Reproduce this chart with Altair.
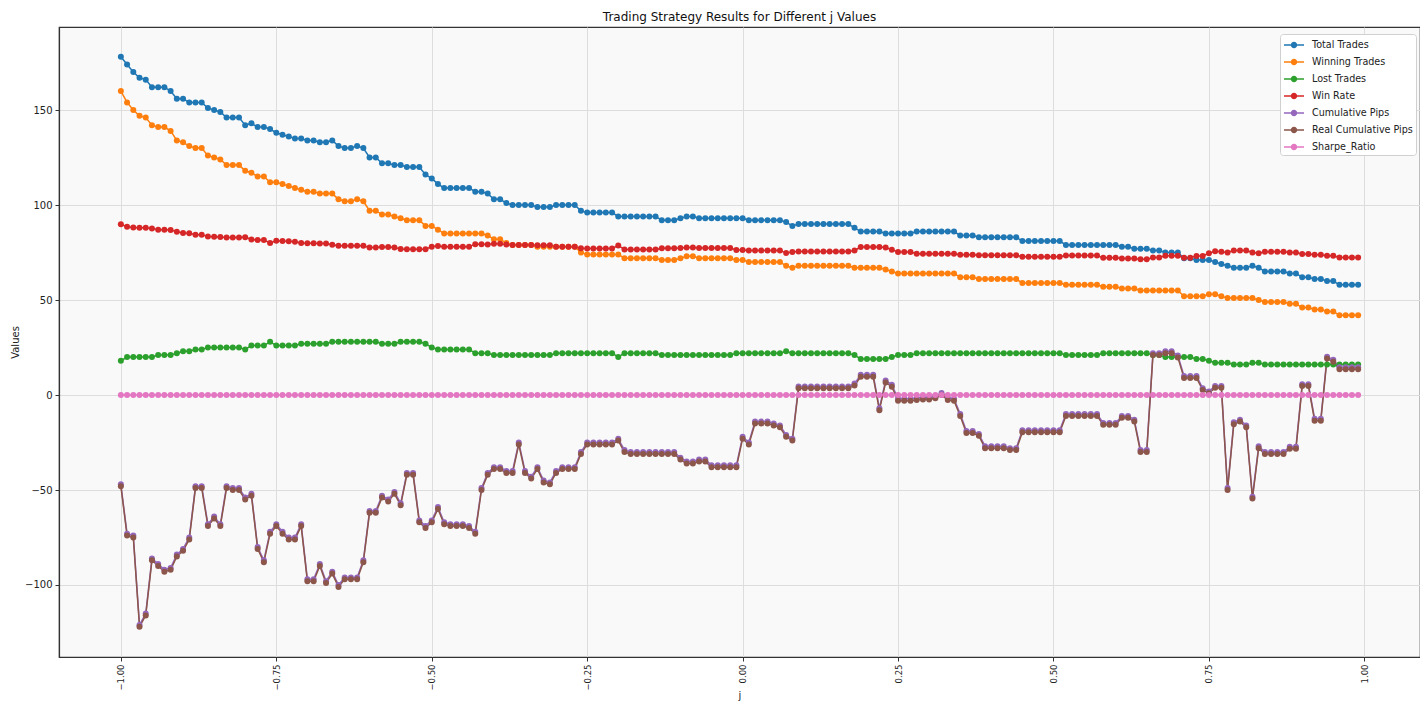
import altair as alt
import pandas as pd

series_names = ["Total Trades", "Winning Trades", "Lost Trades", "Win Rate",
                "Cumulative Pips", "Real Cumulative Pips", "Sharpe_Ratio"]
series_colors = ["#1f77b4", "#ff7f0e", "#2ca02c", "#d62728",
                 "#9467bd", "#8c564b", "#e377c2"]

j_values = [round(-1 + 0.01 * i, 2) for i in range(200)]

total_trades = [
    178, 174, 170, 167, 166, 162, 162, 162, 160, 156, 156, 154, 154, 154, 151, 150, 149, 146, 146, 146,
    142, 143, 141, 141, 140, 138, 137, 136, 135, 135, 134, 134, 133, 133, 134, 131, 130, 130, 131, 130,
    125, 125, 122, 122, 121, 121, 120, 120, 120, 116, 114, 111, 109, 109, 109, 109, 109, 107, 107, 106,
    103, 103, 101, 100, 100, 100, 100, 99, 99, 99, 100, 100, 100, 100, 97, 96, 96, 96, 96, 96,
    94, 94, 94, 94, 94, 94, 94, 92, 92, 92, 93, 94, 94, 93, 93, 93, 93, 93, 93, 93,
    93, 92, 92, 92, 92, 92, 92, 91, 89, 90, 90, 90, 90, 90, 90, 90, 90, 90, 88, 86,
    86, 86, 86, 85, 85, 85, 85, 85, 86, 86, 86, 86, 86, 86, 86, 84, 84, 84, 83, 83,
    83, 83, 83, 83, 83, 81, 81, 81, 81, 81, 81, 81, 79, 79, 79, 79, 79, 79, 79, 79,
    79, 78, 78, 77, 77, 77, 76, 76, 75, 75, 75, 72, 72, 71, 71, 71, 70, 69, 68, 67,
    67, 67, 68, 67, 65, 65, 65, 65, 64, 64, 62, 62, 61, 61, 60, 60, 58, 58, 58, 58,
]

winning_trades = [
    160, 154, 150, 147, 146, 142, 141, 141, 139, 134, 133, 131, 130, 130, 126, 125, 124, 121, 121, 121,
    118, 117, 115, 115, 112, 112, 111, 110, 109, 108, 107, 107, 106, 106, 106, 103, 102, 102, 103, 102,
    97, 97, 95, 95, 94, 93, 92, 92, 92, 89, 89, 87, 85, 85, 85, 85, 85, 85, 85, 84,
    82, 82, 80, 79, 79, 79, 79, 78, 78, 78, 78, 78, 78, 78, 75, 74, 74, 74, 74, 74,
    74, 72, 72, 72, 72, 72, 72, 71, 71, 71, 72, 73, 73, 72, 72, 72, 72, 72, 72, 71,
    71, 70, 70, 70, 70, 70, 70, 68, 67, 68, 68, 68, 68, 68, 68, 68, 68, 68, 67, 67,
    67, 67, 67, 66, 65, 64, 64, 64, 64, 64, 64, 64, 64, 64, 64, 62, 62, 62, 61, 61,
    61, 61, 61, 61, 61, 59, 59, 59, 59, 59, 59, 59, 58, 58, 58, 58, 58, 58, 57, 57,
    57, 56, 56, 56, 55, 55, 55, 55, 55, 55, 55, 52, 52, 52, 52, 53, 53, 52, 51, 51,
    51, 51, 51, 50, 49, 49, 49, 49, 48, 48, 46, 46, 45, 45, 44, 44, 42, 42, 42, 42,
]

lost_trades = [
    18, 20, 20, 20, 20, 20, 21, 21, 21, 22, 23, 23, 24, 24, 25, 25, 25, 25, 25, 25,
    24, 26, 26, 26, 28, 26, 26, 26, 26, 27, 27, 27, 27, 27, 28, 28, 28, 28, 28, 28,
    28, 28, 27, 27, 27, 28, 28, 28, 28, 27, 25, 24, 24, 24, 24, 24, 24, 22, 22, 22,
    21, 21, 21, 21, 21, 21, 21, 21, 21, 21, 22, 22, 22, 22, 22, 22, 22, 22, 22, 22,
    20, 22, 22, 22, 22, 22, 22, 21, 21, 21, 21, 21, 21, 21, 21, 21, 21, 21, 21, 22,
    22, 22, 22, 22, 22, 22, 22, 23, 22, 22, 22, 22, 22, 22, 22, 22, 22, 22, 21, 19,
    19, 19, 19, 19, 20, 21, 21, 21, 22, 22, 22, 22, 22, 22, 22, 22, 22, 22, 22, 22,
    22, 22, 22, 22, 22, 22, 22, 22, 22, 22, 22, 22, 21, 21, 21, 21, 21, 21, 22, 22,
    22, 22, 22, 22, 22, 22, 21, 21, 20, 20, 20, 20, 20, 19, 19, 18, 17, 17, 17, 16,
    16, 16, 17, 17, 16, 16, 16, 16, 16, 16, 16, 16, 16, 16, 16, 16, 16, 16, 16, 16,
]

win_rate = [
    89.9, 88.5, 88.2, 88.0, 88.0, 87.7, 87.0, 87.0, 86.9, 85.9, 85.3, 85.1, 84.4, 84.4, 83.4, 83.3, 83.2, 82.9, 82.9, 82.9,
    83.1, 81.8, 81.6, 81.6, 80.0, 81.2, 81.0, 80.9, 80.7, 80.0, 79.9, 79.9, 79.7, 79.7, 79.1, 78.6, 78.5, 78.5, 78.6, 78.5,
    77.6, 77.6, 77.9, 77.9, 77.7, 76.9, 76.7, 76.7, 76.7, 76.7, 78.1, 78.4, 78.0, 78.0, 78.0, 78.0, 78.0, 79.4, 79.4, 79.2,
    79.6, 79.6, 79.2, 79.0, 79.0, 79.0, 79.0, 78.8, 78.8, 78.8, 78.0, 78.0, 78.0, 78.0, 77.3, 77.1, 77.1, 77.1, 77.1, 77.1,
    78.7, 76.6, 76.6, 76.6, 76.6, 76.6, 76.6, 77.2, 77.2, 77.2, 77.4, 77.7, 77.7, 77.4, 77.4, 77.4, 77.4, 77.4, 77.4, 76.3,
    76.3, 76.1, 76.1, 76.1, 76.1, 76.1, 76.1, 74.7, 75.3, 75.6, 75.6, 75.6, 75.6, 75.6, 75.6, 75.6, 75.6, 75.6, 76.1, 77.9,
    77.9, 77.9, 77.9, 77.6, 76.5, 75.3, 75.3, 75.3, 74.4, 74.4, 74.4, 74.4, 74.4, 74.4, 74.4, 73.8, 73.8, 73.8, 73.5, 73.5,
    73.5, 73.5, 73.5, 73.5, 73.5, 72.8, 72.8, 72.8, 72.8, 72.8, 72.8, 72.8, 73.4, 73.4, 73.4, 73.4, 73.4, 73.4, 72.2, 72.2,
    72.2, 71.8, 71.8, 71.8, 71.4, 71.4, 72.4, 72.4, 73.3, 73.3, 73.3, 72.2, 72.2, 73.2, 73.2, 74.6, 75.7, 75.4, 75.0, 76.1,
    76.1, 76.1, 75.0, 74.6, 75.4, 75.4, 75.4, 75.4, 75.0, 75.0, 74.2, 74.2, 73.8, 73.8, 73.3, 73.3, 72.4, 72.4, 72.4, 72.4,
]

cumulative_pips = [
    -47, -73, -74, -121, -115, -86, -89, -92, -91, -84, -81, -75, -48, -48, -68, -64, -68, -48, -49, -49,
    -54, -52, -80, -87, -72, -68, -72, -75, -75, -68, -97, -97, -89, -98, -93, -100, -96, -96, -96, -87,
    -61, -61, -53, -55, -51, -57, -41, -41, -66, -69, -66, -59, -67, -68, -68, -68, -69, -72, -49, -41,
    -38, -38, -40, -40, -25, -40, -43, -38, -45, -46, -40, -38, -38, -38, -30, -25, -25, -25, -25, -25,
    -23, -29, -30, -30, -30, -30, -30, -30, -30, -30, -33, -35, -35, -34, -34, -37, -37, -37, -37, -37,
    -22, -25, -14, -14, -14, -15, -16, -21, -23, 4.5, 4.5, 4.5, 4.5, 4.5, 4.5, 4.5, 4.5, 4.5, 6, 10.6,
    10.6, 10.6, -7, 7.6, 5.4, -2, -2, -2, -1.6, -1.3, -1.3, -0.7, 1, -1.6, -2, -10, -19, -19, -20.5, -27,
    -27, -27, -27, -28, -28, -18.6, -18.6, -18.6, -18.6, -18.6, -18.6, -18.6, -10, -10, -10, -10, -10, -10, -14.7, -14.7,
    -14.7, -11, -11, -13, -29, -29, 22, 22, 23, 23, 20.8, 10, 10, 10, 3.6, 1.9, 4.8, 4.8, -49, -14.4,
    -13, -16, -53.5, -27, -30, -30, -30, -30, -27.3, -27.3, 5.7, 5.7, -12.5, -12.5, 20.2, 18.5, 14.6, 14.6, 14.6, 14.6,
]

real_cumulative_pips = [
    -48, -74, -75, -122, -116, -87, -90, -93, -92, -85, -82, -76, -49, -49, -69, -65, -69, -49, -50, -50,
    -55, -53, -81, -88, -73, -69, -73, -76, -76, -69, -98, -98, -90, -99, -94, -101, -97, -97, -97, -88,
    -62, -62, -54, -56, -52, -58, -42, -42, -67, -70, -67, -60, -68, -69, -69, -69, -70, -73, -50, -42,
    -39, -39, -41, -41, -26, -41, -44, -39, -46, -47, -41, -39, -39, -39, -31, -26, -26, -26, -26, -26,
    -24, -30, -31, -31, -31, -31, -31, -31, -31, -31, -34, -36, -36, -35, -35, -38, -38, -38, -38, -38,
    -23, -26, -15, -15, -15, -16, -17, -22, -24, 3.5, 3.5, 3.5, 3.5, 3.5, 3.5, 3.5, 3.5, 3.5, 5, 9.6,
    9.6, 9.6, -8, 6.6, 4.4, -3, -3, -3, -2.6, -2.3, -2.3, -1.7, 0, -2.6, -3, -11, -20, -20, -21.5, -28,
    -28, -28, -28, -29, -29, -19.6, -19.6, -19.6, -19.6, -19.6, -19.6, -19.6, -11, -11, -11, -11, -11, -11, -15.7, -15.7,
    -15.7, -12, -12, -14, -30, -30, 21, 21, 22, 22, 19.8, 9, 9, 9, 2.6, 0.9, 3.8, 3.8, -50, -15.4,
    -14, -17, -54.5, -28, -31, -31, -31, -31, -28.3, -28.3, 4.7, 4.7, -13.5, -13.5, 19.2, 17.5, 13.6, 13.6, 13.6, 13.6,
]

sharpe_ratio = [0.0] * 200

x_ticks = [-1.0, -0.75, -0.5, -0.25, 0.0, 0.25, 0.5, 0.75, 1.0]
y_ticks = [-100, -50, 0, 50, 100, 150]

all_series = [total_trades, winning_trades, lost_trades, win_rate,
              cumulative_pips, real_cumulative_pips, sharpe_ratio]
rows = []
for k, (name, vals) in enumerate(zip(series_names, all_series)):
    for jj, v in zip(j_values, vals):
        rows.append({"j": jj, "series": name, "value": v, "k": k})
df = pd.DataFrame(rows)

font = "DejaVu Sans"

x_enc = alt.X(
    "j:Q",
    scale=alt.Scale(domain=[-1.0995, 1.0895], nice=False, zero=False),
    axis=alt.Axis(values=x_ticks, format=".2f", labelAngle=270, labelAlign="right",
                  labelBaseline="middle", labelFontSize=8.5, labelPadding=3,
                  title="j", titleFontSize=10, titleFontWeight="normal", titlePadding=0),
)
y_enc = alt.Y(
    "value:Q",
    scale=alt.Scale(domain=[-137.9, 193.7], nice=False, zero=False),
    axis=alt.Axis(values=y_ticks, format="d", labelFontSize=10, labelPadding=3,
                  title="Values", titleFontSize=10, titleFontWeight="normal", titlePadding=4),
)
color_scale = alt.Scale(domain=series_names, range=series_colors)

legend_symbol = ("M-1,-0.11L1.86,-0.11L1.86,0.11L-1,0.11Z "
                 "M0.89,0A0.46,0.46,0,1,1,-0.03,0A0.46,0.46,0,1,1,0.89,0Z")

lines = alt.Chart(df).mark_line(strokeWidth=1.5).encode(
    x=x_enc, y=y_enc,
    color=alt.Color("series:N", scale=color_scale, sort=series_names, legend=None),
    detail="k:O",
)
points = alt.Chart(df).mark_point(filled=True, size=36, opacity=1).encode(
    x=x_enc, y=y_enc,
    color=alt.Color(
        "series:N", scale=color_scale, sort=series_names,
        legend=alt.Legend(
            title=None, orient="none", legendX=1221, legendY=7,
            symbolType=legend_symbol, symbolSize=196,
            labelFontSize=9.6, labelFont=font, labelColor="#222222",
            rowPadding=4, padding=3, labelOffset=13,
            fillColor="white", strokeColor="#d0d0d0", cornerRadius=3,
        ),
    ),
)

chart = alt.layer(lines, points).resolve_legend(color="independent").properties(
    width=1361, height=630,
    title=alt.TitleParams("Trading Strategy Results for Different j Values",
                          fontSize=12, fontWeight="normal", font=font, color="#111111",
                          anchor="middle", offset=3),
    autosize=alt.AutoSizeParams(type="none"),
    padding={"left": 51, "top": 19, "right": 0, "bottom": 44},
).configure(font=font).configure_view(
    fill="#f9f9f9", stroke="#333333", strokeWidth=1.2,
).configure_axis(
    gridColor="#dddddd", gridWidth=1, domainColor="#333333", domainWidth=1.2,
    tickColor="#333333", tickSize=4, labelColor="#222222", titleColor="#222222",
    labelFont=font, titleFont=font,
)

chart.save("out.html", embed_options={"renderer": "svg", "actions": False})
